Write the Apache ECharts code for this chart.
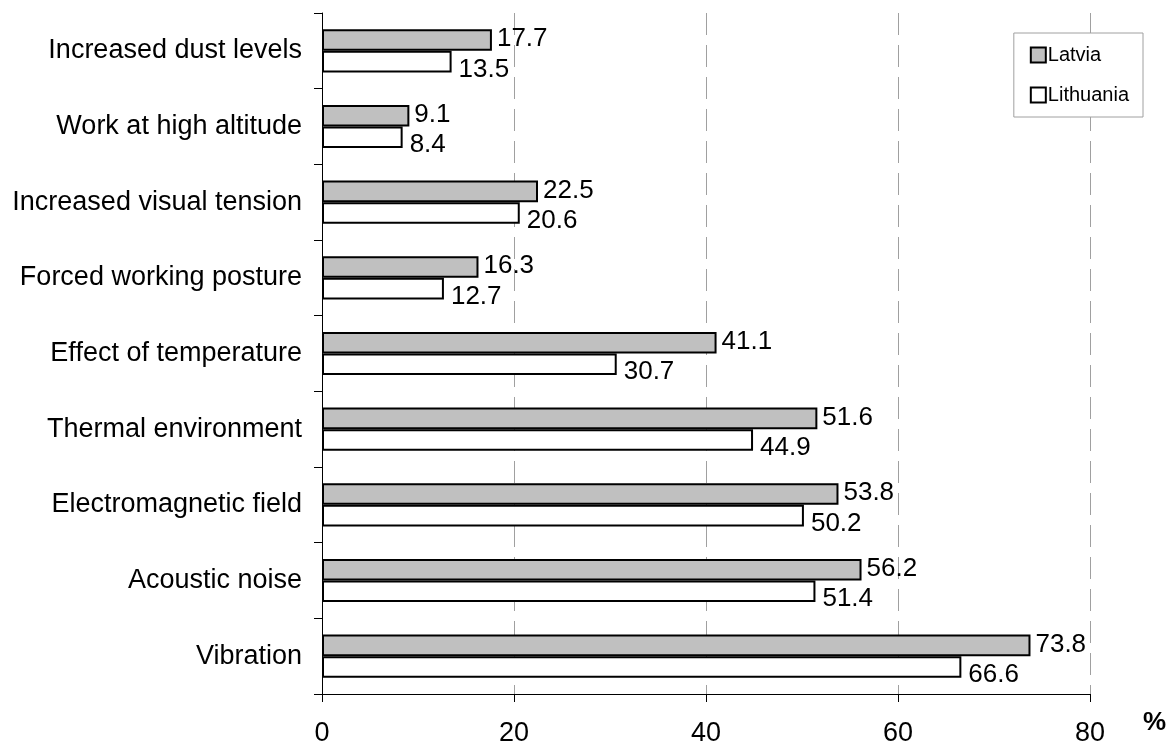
<!DOCTYPE html>
<html>
<head>
<meta charset="utf-8">
<script src="https://cdn.jsdelivr.net/npm/echarts@6/dist/echarts.min.js"></script>
<style>
html,body{margin:0;padding:0;background:#fff;}
#chart{width:1170px;height:747px;}
</style>
</head>
<body>
<div id="chart"></div>
<script>
const categories = [
  'Increased dust levels',
  'Work at high altitude',
  'Increased visual tension',
  'Forced working posture',
  'Effect of temperature',
  'Thermal environment',
  'Electromagnetic field',
  'Acoustic noise',
  'Vibration'
];
const latvia =    [17.7, 9.1, 22.5, 16.3, 41.1, 51.6, 53.8, 56.2, 73.8];
const lithuania = [13.5, 8.4, 20.6, 12.7, 30.7, 44.9, 50.2, 51.4, 66.6];
const xTicks = [0, 20, 40, 60, 80];
const seriesNames = ['Latvia', 'Lithuania'];
const unitLabel = '%';

const FONT = '"Liberation Sans", Arial, sans-serif';
const chart = echarts.init(document.getElementById('chart'), null, {renderer: 'canvas'});

const labelBase = {
  show: true,
  position: 'right',
  distance: 5,
  color: '#000',
  fontFamily: FONT,
  fontSize: 26,
  formatter: p => p.value.toFixed(1)
};

chart.setOption({
  animation: false,
  backgroundColor: '#fff',
  grid: {left: 322, right: 80, top: 13, bottom: 52, containLabel: false},
  legend: {
    right: 27,
    top: 33,
    orient: 'vertical',
    width: 131,
    padding: [12, 14, 12, 16],
    itemGap: 20,
    itemWidth: 15,
    itemHeight: 15,
    borderColor: '#a0a0a0',
    borderWidth: 1,
    backgroundColor: '#fff',
    icon: 'rect',
    textStyle: {fontFamily: FONT, fontSize: 20, color: '#000', padding: [0, 0, 0, -3]},
    data: seriesNames
  },
  xAxis: {
    type: 'value',
    min: xTicks[0],
    max: xTicks[xTicks.length - 1],
    interval: xTicks[1] - xTicks[0],
    axisLine: {show: true, lineStyle: {color: '#000', width: 1}},
    axisTick: {show: true, length: 8, lineStyle: {color: '#000'}},
    axisLabel: {color: '#000', fontFamily: FONT, fontSize: 27, margin: 26},
    splitLine: {show: true, lineStyle: {color: '#a0a0a0', width: 1, type: [22, 10]}}
  },
  yAxis: {
    type: 'category',
    inverse: true,
    data: categories,
    axisLine: {show: true, lineStyle: {color: '#000', width: 1}},
    axisTick: {show: true, length: 8, lineStyle: {color: '#000'}},
    axisLabel: {color: '#000', fontFamily: FONT, fontSize: 27, margin: 20},
    splitLine: {show: false}
  },
  graphic: [{
    type: 'text',
    left: 1143,
    top: 710,
    style: {text: unitLabel, fontFamily: FONT, fontSize: 26, fontWeight: 'bold', fill: '#000'}
  }],
  series: [
    {
      name: seriesNames[0],
      type: 'bar',
      data: latvia,
      barGap: '0%',
      barCategoryGap: '43%',
      itemStyle: {color: '#c0c0c0', borderColor: '#000', borderWidth: 2},
      label: Object.assign({}, labelBase, {offset: [0, -1]})
    },
    {
      name: seriesNames[1],
      type: 'bar',
      data: lithuania,
      barGap: '0%',
      barCategoryGap: '43%',
      itemStyle: {color: '#ffffff', borderColor: '#000', borderWidth: 2},
      label: Object.assign({}, labelBase, {offset: [2, 8]})
    }
  ]
});
</script>
</body>
</html>
